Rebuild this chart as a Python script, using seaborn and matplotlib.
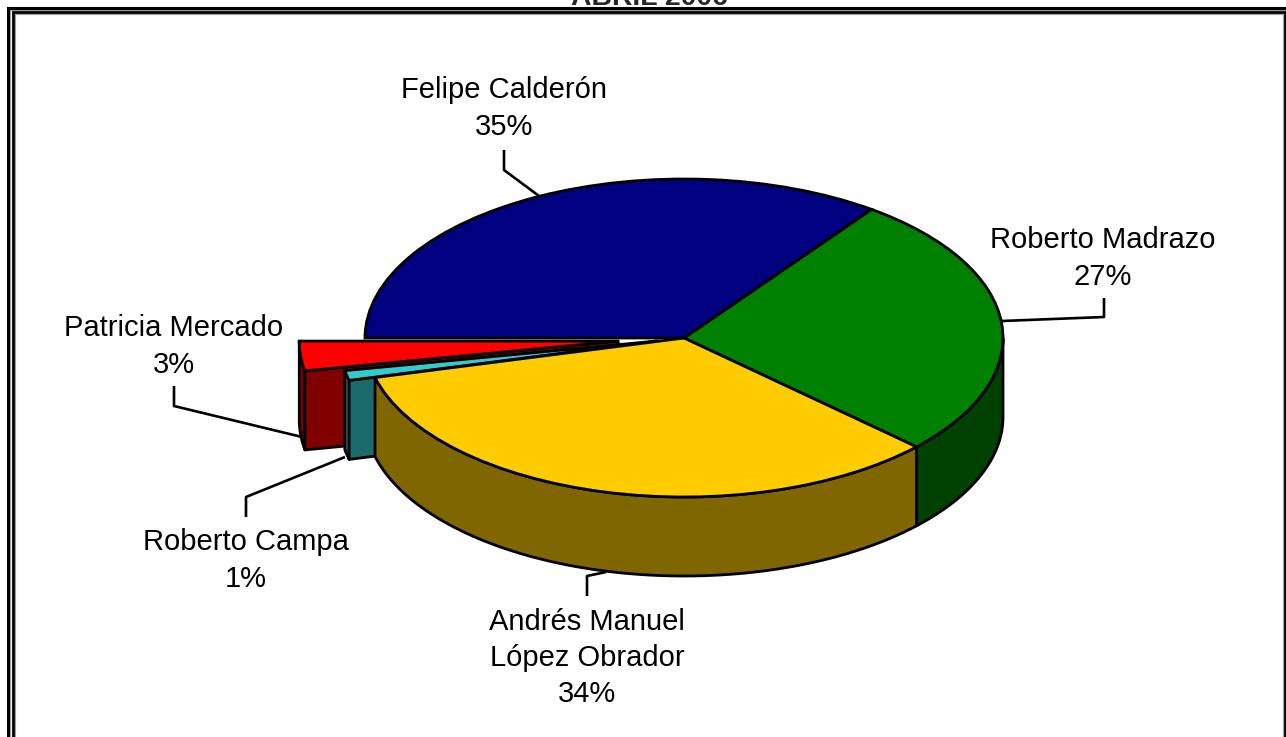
"""3D-looking pie of the April 2006 poll, top faces from ax.pie, sides extruded."""
import numpy as np
import matplotlib.pyplot as plt
import seaborn as sns

NAMES = ["Roberto Madrazo", "Andrés Manuel\nLópez Obrador", "Roberto Campa",
         "Patricia Mercado", "Felipe Calderón"]
VALUES = [27, 34, 1, 3, 35]
EXPLODE = [0, 0, 0.083, 0.207, 0]
TOP_COLORS = ["#008000", "#ffcc00", "#33cccc", "#ff0000", "#000080"]
SIDE_COLORS = ["#004000", "#806600", "#1c6a6a", "#800000", "#000040"]
TITLE = "ABRIL 2006"

W, H = 1286, 737
CX, CY, RX, RY = 684, 338, 319, 159
DEPTH = 79 / RY
START = 54


def px(x, y):
    return (x - CX) / RX, (CY - y) / RY


def extrude(ax, xs, ys, color, z):
    xs = np.asarray(xs); ys = np.asarray(ys)
    ax.fill(np.r_[xs, xs[::-1]], np.r_[ys, ys[::-1] - DEPTH],
            facecolor=color, edgecolor="black", lw=2, joinstyle="round", zorder=z)


def leader(ax, pts):
    xy = np.array([px(*p) for p in pts])
    ax.plot(xy[:, 0], xy[:, 1], color="black", lw=1.9, zorder=9, solid_capstyle="butt")


def label(ax, x, y, name, value):
    ax.text(*px(x, y), f"{name}\n{value}%", ha="center", va="center", fontsize=21,
            color="black", linespacing=1.38, zorder=10)


def border(ax, pts, color, lw):
    xy = np.array([px(*p) for p in pts])
    ax.plot(xy[:, 0], xy[:, 1], color=color, lw=lw, zorder=11, solid_joinstyle="miter")


def main():
    sns.set_theme(style="white")
    plt.rcParams["font.family"] = ["Liberation Sans", "DejaVu Sans"]
    fig = plt.figure(figsize=(W / 100, H / 100), dpi=100, facecolor="white")
    ax = fig.add_axes([0, 0, 1, 1])

    wedges, _ = ax.pie(VALUES, explode=EXPLODE, startangle=START, counterclock=False,
                       colors=sns.color_palette(TOP_COLORS), radius=1,
                       wedgeprops={"edgecolor": "black", "linewidth": 2})
    ax.set_aspect("auto")
    ax.set_xlim(px(0, 0)[0], px(W, 0)[0])
    ax.set_ylim(px(0, H)[1], px(0, 0)[1])

    # angle bounds of each slice, clockwise from START
    edges = START - 3.6 * np.cumsum([0] + VALUES)
    # slices nearest the viewer come last
    order = [6, 6, 4, 2, 6]
    for w, z in zip(wedges, order):
        w.set_zorder(z)

    for i in range(len(VALUES)):
        a0, a1 = edges[i], edges[i + 1]
        mid = np.radians((a0 + a1) / 2)
        ox, oy = EXPLODE[i] * np.cos(mid), EXPLODE[i] * np.sin(mid)
        # outer wall: only the part facing the viewer (lower half)
        hi = max(a1, -180)
        if min(a0, 0) > hi:
            t = np.radians(np.linspace(min(a0, 0), hi, 80))
            extrude(ax, np.cos(t) + ox, np.sin(t) + oy, SIDE_COLORS[i], order[i] - 1)
        # cut face of the exploded slices
        if EXPLODE[i] > 0:
            r = np.radians(a0)
            extrude(ax, [ox, np.cos(r) + ox], [oy, np.sin(r) + oy], SIDE_COLORS[i], order[i] - 1)

    leader(ax, [(539, 196), (504, 170), (504, 150)])
    leader(ax, [(1002, 321), (1104, 317), (1104, 298)])
    leader(ax, [(302, 437), (174, 406), (174, 386)])
    leader(ax, [(345, 457), (246, 497), (246, 517)])
    leader(ax, [(606, 572), (587, 576), (587, 596)])

    label(ax, 504, 108.5, NAMES[4], VALUES[4])
    label(ax, 1103, 258.5, NAMES[0], VALUES[0])
    label(ax, 174, 346.5, NAMES[3], VALUES[3])
    label(ax, 246, 560.5, NAMES[2], VALUES[2])
    label(ax, 587, 658, NAMES[1], VALUES[1])
    # the title is cut by the top edge in the source page as well
    ax.text(*px(649, 5), TITLE, ha="center", va="baseline", fontsize=20.4, fontweight="bold", zorder=1)

    # double page border, open at the bottom and cropped on the right
    border(ax, [(10, H + 5), (10, 10), (1290, 10)], "#a0a0a0", 0.8)
    border(ax, [(14.5, H + 5), (14.5, 14), (1282.5, 14), (1282.5, H + 5)], "#a0a0a0", 0.8)
    border(ax, [(7.5, H + 5), (7.5, 7.5), (1290, 7.5)], "black", 2.2)
    border(ax, [(12.5, H + 5), (12.5, 12), (1284.5, 12), (1284.5, H + 5)], "black", 2.0)

    fig.savefig("out.png", dpi=100, facecolor="white")
    plt.close(fig)


if __name__ == "__main__":
    main()
